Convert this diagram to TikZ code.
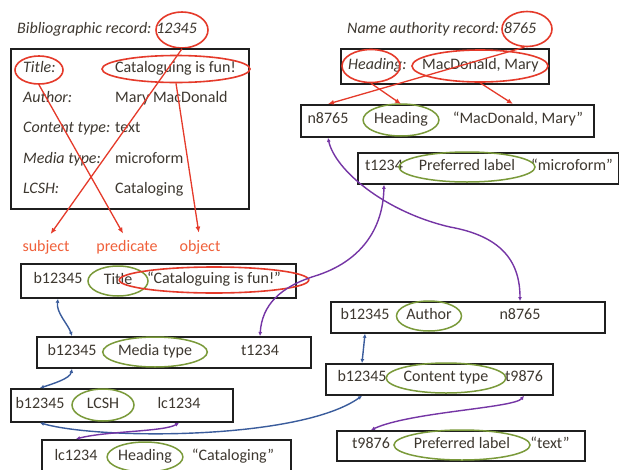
\documentclass[tikz,border=0pt]{standalone}
\usepackage{fontspec}
\setmainfont{Carlito}
\usetikzlibrary{shapes.geometric,arrows.meta}
\definecolor{redc}{HTML}{E53A2A}
\definecolor{labc}{HTML}{F0603A}
\definecolor{grn}{HTML}{7A9A3A}
\definecolor{blu}{HTML}{3A5C9C}
\definecolor{pur}{HTML}{7535A5}
\definecolor{txt}{HTML}{3E3830}
\begin{document}
\begin{tikzpicture}[x=1pt,y=-1pt,
  font=\fontsize{16}{19}\selectfont,
  tx/.style={inner sep=0pt, text height=11pt, text depth=3.5pt, text=txt},
  box/.style={draw=black!88, line width=1.8pt, anchor=north west, inner sep=0pt},
  ell/.style={tx, ellipse, draw=grn, line width=1.5pt},
  rell/.style={tx, ellipse, draw=redc, line width=1.6pt},
  lab/.style={tx, text=labc},
  rarr/.style={draw=redc, line width=1.3pt, -{Latex[length=6pt,width=5pt]}},
  bconn/.style={draw=blu, line width=1.4pt, {Latex[length=4pt,width=4pt]}-{Latex[length=4pt,width=4pt]}},
  pconn/.style={draw=pur, line width=1.4pt, {Latex[length=4pt,width=4pt]}-{Latex[length=4pt,width=4pt]}}]
\fill[white] (0,0) rectangle (619,469);
\useasboundingbox (0,0) rectangle (619,469);

% ---------- Bibliographic record ----------
\node[tx, anchor=west] (brt) at (17,30) {\itshape Bibliographic record: 12345};
\node[rell, minimum width=52, minimum height=36] (e12345) at (182,30) {};
\node[box, minimum width=238, minimum height=160] (rec1) at (10,48) {};
\node[tx, anchor=west] (l1) at (23,69) {\itshape Title:};
\node[tx, anchor=west] (l2) at (23,99) {\itshape Author:};
\node[tx, anchor=west] (l3) at (23,129) {\itshape Content type:};
\node[tx, anchor=west] (l4) at (23,160) {\itshape Media type:};
\node[tx, anchor=west] (l5) at (23,190) {\itshape LCSH:};
\node[tx, anchor=west] (v1) at (115,69) {Cataloguing is fun!};
\node[tx, anchor=west] (v2) at (115,99) {Mary MacDonald};
\node[tx, anchor=west] (v3) at (115,129) {text};
\node[tx, anchor=west] (v4) at (115,160) {microform};
\node[tx, anchor=west] (v5) at (115,190) {Cataloging};
\node[rell, minimum width=48, minimum height=28] (eTitle) at (39,70) {};
\node[rell, minimum width=148, minimum height=27] (eCat) at (176,69) {};

\node[lab] (subj) at (46,248) {subject};
\node[lab] (pred) at (127,248) {predicate};
\node[lab] (obj) at (200,248) {object};
\draw[rarr, shorten >=8pt] (e12345.south) -- (subj.north);
\draw[rarr, shorten >=8pt] (eTitle.south) -- (pred.north);
\draw[rarr, shorten >=8pt] (eCat.south) -- (obj.north);

% ---------- Name authority record ----------
\node[tx, anchor=west] (nat) at (347,30) {\itshape Name authority record: 8765};
\node[rell, minimum width=50, minimum height=35] (e8765) at (527,29) {};
\node[box, minimum width=208, minimum height=35] (rec2) at (340,48) {};
\node[tx, anchor=west] (h1) at (348,66) {\itshape Heading:};
\node[tx, anchor=west] (h2) at (422,66) {MacDonald, Mary};
\node[rell, minimum width=58, minimum height=33] (eHead) at (371,66) {};
\node[rell, minimum width=136, minimum height=32] (eMac) at (480,66) {};

% n8765 triple
\node[box, minimum width=293, minimum height=32] (bN) at (300,104) {};
\node[tx] (nN1) at (328,120) {n8765};
\node[ell, minimum width=68, minimum height=32] (nN2) at (401,120) {Heading};
\node[tx] (nN3) at (518,120) {“MacDonald, Mary”};
\draw[rarr] (eHead.south) -- (nN2 |- bN.north);
\draw[rarr] (eMac.south) -- ([xshift=-5pt]nN3 |- bN.north);
\draw[rarr] (e8765.262) -- (nN1 |- bN.north);

% t1234 triple
\node[box, minimum width=261, minimum height=31] (bT1) at (357,152) {};
\node[tx] (t1a) at (384,167) {t1234};
\node[ell, minimum width=110, minimum height=30] (t1b) at (467,167) {Preferred label};
\node[tx] (t1c) at (572,167) {“microform”};

% ---------- Left triples ----------
\node[box, minimum width=275, minimum height=34] (bTi) at (20,263) {};
\node[tx] (ti1) at (58,280) {b12345};
\node[ell, minimum width=60, minimum height=30] (ti2) at (118,281) {Title};
\node[rell, minimum width=152, minimum height=26] (ti3) at (214,280) {“Cataloguing is fun!”};

\node[box, minimum width=274, minimum height=31] (bMe) at (36,336) {};
\node[tx] (me1) at (72,352) {b12345};
\node[ell, minimum width=96, minimum height=30] (me2) at (155,352) {Media type};
\node[tx] (me3) at (260,352) {t1234};

\node[box, minimum width=222, minimum height=33] (bLc) at (10,388) {};
\node[tx] (lc1) at (40,405) {b12345};
\node[ell, minimum width=62, minimum height=32] (lc2) at (103,405) {LCSH};
\node[tx] (lc3) at (179,405) {lc1234};

\node[box, minimum width=249, minimum height=38] (bHd) at (41,439) {};
\node[tx] (hd1) at (76,457) {lc1234};
\node[ell, minimum width=60, minimum height=30] (hd2) at (145,457) {Heading};
\node[tx] (hd3) at (233,457) {“Cataloging”};

% ---------- Right triples ----------
\node[box, minimum width=274, minimum height=31] (bAu) at (330,301) {};
\node[tx] (au1) at (365,316) {b12345};
\node[ell, minimum width=65, minimum height=30] (au2) at (429,316) {Author};
\node[tx] (au3) at (520,316) {n8765};

\node[box, minimum width=227, minimum height=31] (bCt) at (325,363) {};
\node[tx] (ct1) at (362,378) {b12345};
\node[ell, minimum width=98, minimum height=30] (ct2) at (446,378) {Content type};
\node[tx] (ct3) at (524,378) {t9876};

\node[box, minimum width=248, minimum height=30] (bT9) at (336,430) {};
\node[tx] (t91) at (371,445) {t9876};
\node[ell, minimum width=110, minimum height=30] (t92) at (462,445) {Preferred label};
\node[tx] (t93) at (550,445) {“text”};

% ---------- Connectors ----------
\draw[bconn] (ti1 |- bTi.south) .. controls +(-2,14) and +(-4,-12) .. (me1 |- bMe.north);
\draw[bconn] (me1 |- bMe.south) .. controls +(-2,10) and +(12,-4) .. (lc1 |- bLc.north);
\draw[bconn] (lc1 |- bLc.south) .. controls (100,440) and (300,440) .. (ct1 |- bCt.south);
\draw[bconn] (au1 |- bAu.south) .. controls +(-1,10) and +(1,-10) .. (ct1 |- bCt.north);

\draw[pconn] (nN1 |- bN.south) .. controls (335,170) and (385,212) .. (450,227)
   .. controls (500,236) and (520,260) .. (au3 |- bAu.north);
\draw[pconn] (t1a |- bT1.south) .. controls (383,230) and (360,262) .. (315,276)
   .. controls (280,287) and (262,305) .. (me3 |- bMe.north);
\draw[pconn] (lc3 |- bLc.south) .. controls +(-15,9) and +(30,-8) .. (hd1 |- bHd.north);
\draw[pconn] (ct3 |- bCt.south) .. controls (514,408) and (410,412) .. (t91 |- bT9.north);
\end{tikzpicture}
\end{document}
